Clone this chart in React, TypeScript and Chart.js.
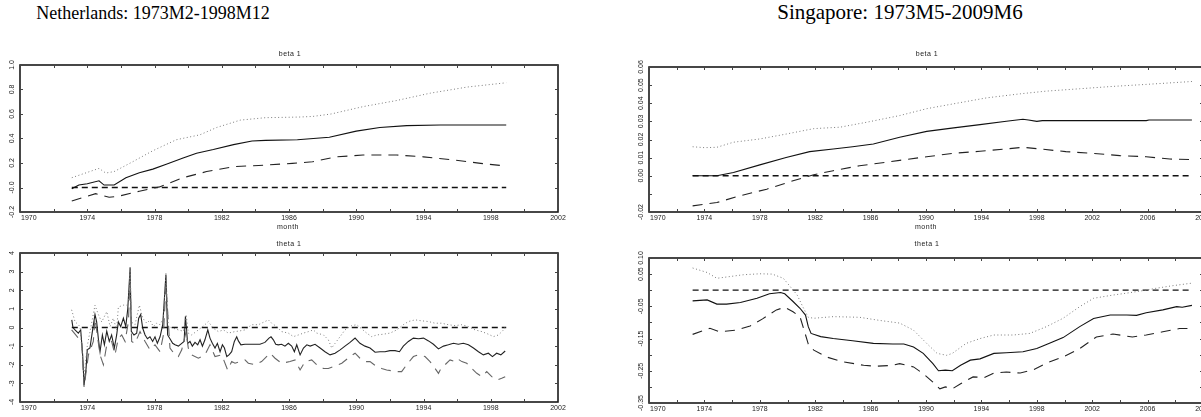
import React, { useEffect, useRef } from "react";
import { Chart, registerables } from "chart.js";
Chart.register(...registerables);

// ---------- Netherlands: beta 1 ----------
const nlBetaEstX = [1973.08, 1973.5, 1974.0, 1974.7, 1975.0, 1975.6, 1976.3, 1977.1, 1977.9, 1978.7, 1979.7, 1980.5, 1981.5, 1982.7, 1983.8, 1984.6, 1986.5, 1988.4, 1990.0, 1991.4, 1993.0, 1995.0, 1998.92];
const nlBetaEst = [-0.01, 0.02, 0.03, 0.055, 0.02, 0.02, 0.08, 0.12, 0.15, 0.19, 0.24, 0.28, 0.31, 0.35, 0.38, 0.385, 0.39, 0.41, 0.46, 0.49, 0.505, 0.51, 0.51];
const nlBetaUpX = [1973.08, 1974.7, 1975.1, 1975.6, 1976.7, 1977.9, 1979.3, 1980.7, 1981.7, 1983.1, 1984.6, 1986.6, 1987.4, 1988.5, 1990.4, 1992.4, 1994.4, 1996.6, 1998.92];
const nlBetaUp = [0.08, 0.156, 0.118, 0.13, 0.21, 0.3, 0.39, 0.43, 0.49, 0.55, 0.57, 0.575, 0.58, 0.6, 0.66, 0.71, 0.77, 0.82, 0.855];
const nlBetaLoX = [1973.08, 1974.5, 1975.3, 1975.9, 1977.1, 1978.3, 1979.7, 1981.1, 1982.7, 1984.2, 1986.2, 1987.4, 1988.8, 1990.4, 1992.4, 1994.0, 1995.8, 1997.4, 1998.92];
const nlBetaLo = [-0.11, -0.05, -0.08, -0.07, -0.03, 0.005, 0.08, 0.13, 0.17, 0.18, 0.197, 0.21, 0.25, 0.265, 0.265, 0.25, 0.225, 0.197, 0.175];
const nlZeroX = [1973.08, 1998.92];
const nlZero = [0, 0];

// ---------- Netherlands: theta 1 ----------
const nlThetaEstX = [1973.08, 1973.15, 1973.27, 1973.47, 1973.61, 1973.73, 1973.81, 1973.93, 1974.0, 1974.16, 1974.32, 1974.46, 1974.56, 1974.66, 1974.76, 1974.9, 1975.02, 1975.16, 1975.31, 1975.45, 1975.61, 1975.75, 1975.85, 1975.99, 1976.15, 1976.29, 1976.41, 1976.55, 1976.62, 1976.78, 1976.94, 1977.06, 1977.18, 1977.3, 1977.44, 1977.58, 1977.73, 1977.89, 1978.03, 1978.17, 1978.33, 1978.49, 1978.68, 1978.78, 1978.92, 1979.08, 1979.22, 1979.42, 1979.62, 1979.76, 1979.84, 1979.97, 1980.11, 1980.25, 1980.41, 1980.57, 1980.71, 1980.85, 1981.0, 1981.17, 1981.3, 1981.44, 1981.6, 1981.74, 1981.9, 1982.04, 1982.16, 1982.3, 1982.43, 1982.59, 1982.75, 1982.89, 1982.99, 1983.14, 1983.38, 1983.68, 1983.98, 1984.27, 1984.57, 1984.81, 1984.93, 1985.07, 1985.21, 1985.36, 1985.56, 1985.76, 1985.96, 1986.16, 1986.32, 1986.46, 1986.66, 1986.86, 1987.06, 1987.26, 1987.55, 1987.85, 1988.14, 1988.44, 1988.74, 1989.04, 1989.33, 1989.63, 1989.93, 1990.03, 1990.22, 1990.52, 1990.82, 1991.12, 1991.41, 1991.71, 1992.01, 1992.31, 1992.57, 1992.8, 1993.1, 1993.4, 1993.7, 1994.0, 1994.3, 1994.59, 1994.89, 1995.19, 1995.48, 1995.78, 1996.07, 1996.37, 1996.67, 1996.97, 1997.27, 1997.56, 1997.86, 1998.1, 1998.35, 1998.6, 1998.86];
const nlThetaEst = [0.41, 0.0, -0.13, -0.3, -0.13, -1.5, -3.1, -2.2, -1.2, -1.1, -0.13, 0.7, 0.3, -0.6, -1.3, -0.4, -0.93, -0.2, -0.75, -0.4, -1.1, -0.4, 0.3, 0.05, 0.5, 0.05, 1.0, 3.2, -0.2, -0.4, -0.3, 0.5, 0.7, -0.04, -0.4, -0.6, -0.5, -0.75, -0.5, -0.85, -0.5, 0.15, 2.85, -0.4, -0.6, -0.85, -0.93, -1.0, -0.85, -0.75, 0.6, -0.85, -0.75, -1.0, -0.8, -0.93, -0.66, -1.0, -0.66, -0.13, -0.57, -0.85, -1.1, -0.85, -1.3, -0.93, -1.1, -1.56, -1.47, -1.3, -0.75, -0.5, -0.72, -0.93, -0.9, -0.9, -0.9, -0.9, -0.8, -0.57, -0.5, -0.66, -0.9, -0.93, -0.9, -1.0, -0.85, -1.0, -1.3, -0.93, -1.47, -1.1, -0.93, -1.0, -0.9, -1.1, -1.3, -1.47, -1.38, -1.2, -1.0, -0.8, -0.57, -0.66, -0.85, -1.0, -1.1, -1.33, -1.3, -1.3, -1.24, -1.24, -1.3, -1.0, -0.75, -0.57, -0.6, -0.57, -0.72, -0.9, -1.15, -1.0, -0.93, -0.85, -0.9, -0.85, -0.93, -1.1, -1.3, -1.47, -1.38, -1.56, -1.38, -1.47, -1.26];
const nlThetaUpX = [1973.07, 1973.27, 1973.57, 1973.81, 1974.0, 1974.46, 1974.66, 1974.86, 1975.16, 1975.36, 1975.55, 1975.75, 1975.85, 1976.15, 1976.45, 1976.55, 1976.62, 1976.84, 1977.1, 1977.3, 1977.54, 1977.73, 1977.93, 1978.13, 1978.33, 1978.53, 1978.68, 1978.82, 1979.12, 1979.42, 1979.72, 1979.88, 1980.01, 1980.21, 1980.61, 1981.0, 1981.2, 1981.5, 1981.8, 1982.1, 1982.39, 1982.79, 1983.09, 1983.38, 1983.78, 1984.18, 1984.57, 1984.77, 1984.97, 1985.27, 1985.56, 1985.96, 1986.26, 1986.56, 1986.86, 1987.16, 1987.45, 1987.65, 1988.05, 1988.34, 1988.54, 1988.74, 1989.04, 1989.33, 1989.73, 1990.03, 1990.32, 1990.62, 1990.92, 1991.22, 1991.61, 1992.01, 1992.41, 1992.8, 1993.1, 1993.5, 1993.89, 1994.29, 1994.69, 1995.08, 1995.48, 1995.88, 1996.28, 1996.67, 1997.07, 1997.47, 1997.86, 1998.16, 1998.46, 1998.76, 1998.86];
const nlThetaUp = [0.95, 0.32, 0.05, -2.6, -1.0, 1.2, 0.7, 0.3, 0.85, 0.05, 0.5, -0.13, 1.1, 1.2, 1.2, 3.3, 0.3, 0.15, 1.2, 0.5, 0.23, 0.4, 0.05, 0.23, 0.15, 0.5, 2.9, 0.05, -0.04, -0.13, -0.2, 0.7, -0.3, -0.4, -0.13, 0.15, 0.32, -0.04, -0.22, -0.13, -0.3, -0.22, -0.18, -0.13, 0.15, 0.15, 0.32, 0.41, 0.23, 0.05, -0.22, -0.3, -0.49, -0.4, -0.3, -0.22, -0.13, -0.3, -0.4, -0.66, -1.1, -0.85, -0.49, -0.13, 0.1, 0.15, -0.07, -0.3, -0.49, -0.4, -0.36, -0.3, -0.13, 0.15, 0.32, 0.41, 0.36, 0.32, 0.23, 0.23, 0.15, 0.1, 0.15, 0.05, -0.13, -0.22, -0.36, -0.49, -0.4, -0.13, 0.05];
const nlThetaLoX = [1973.07, 1973.47, 1973.67, 1973.81, 1974.07, 1974.36, 1974.46, 1974.76, 1974.96, 1975.16, 1975.45, 1975.65, 1975.85, 1976.05, 1976.25, 1976.45, 1976.55, 1976.64, 1976.84, 1977.14, 1977.44, 1977.73, 1978.03, 1978.33, 1978.53, 1978.68, 1978.92, 1979.22, 1979.42, 1979.62, 1979.88, 1980.01, 1980.21, 1980.61, 1981.0, 1981.3, 1981.6, 1982.0, 1982.35, 1982.59, 1982.79, 1983.38, 1983.58, 1983.98, 1984.37, 1984.87, 1985.17, 1985.56, 1986.06, 1986.36, 1986.66, 1986.96, 1987.35, 1987.65, 1988.05, 1988.34, 1988.64, 1989.14, 1989.63, 1989.93, 1990.22, 1990.52, 1990.82, 1991.22, 1991.51, 1991.81, 1992.41, 1992.7, 1993.0, 1993.4, 1993.7, 1994.09, 1994.39, 1994.69, 1994.89, 1994.99, 1995.28, 1995.58, 1995.78, 1995.98, 1996.28, 1996.57, 1996.87, 1997.17, 1997.47, 1997.76, 1998.06, 1998.36, 1998.65, 1998.86];
const nlThetaLo = [-0.13, -0.57, -0.75, -3.2, -1.47, -0.75, 0.5, -1.47, -2.0, -0.93, -0.75, -1.47, -0.57, -0.4, -0.75, 0.32, 2.85, -0.75, -0.85, -0.22, -0.75, -1.2, -0.93, -1.3, -0.4, 2.3, -1.1, -1.47, -1.56, -1.2, -0.22, -1.1, -1.47, -1.65, -1.47, -0.93, -1.56, -1.47, -2.28, -1.83, -1.92, -1.74, -1.92, -2.0, -1.83, -1.38, -1.65, -1.92, -1.83, -1.74, -2.28, -1.83, -1.74, -2.0, -2.2, -2.2, -2.1, -1.92, -1.56, -1.38, -1.65, -1.83, -1.83, -2.1, -2.2, -2.28, -2.37, -2.37, -2.0, -1.56, -1.47, -1.56, -1.83, -2.2, -2.46, -2.28, -2.0, -1.74, -1.8, -1.65, -1.83, -1.92, -2.2, -2.46, -2.64, -2.37, -2.64, -2.82, -2.73, -2.64];

// ---------- Singapore: beta 1 ----------
const sgBetaEstX = [1973.15, 1974.9, 1976.1, 1978.0, 1979.9, 1981.6, 1983.3, 1984.7, 1986.2, 1988.1, 1990.05, 1992.0, 1993.9, 1995.8, 1997.0, 1997.4, 1998.0, 1998.4, 2001.1, 2005.9, 2006.1, 2009.2];
const sgBetaEst = [0.0, 0.0, 0.0018, 0.006, 0.0101, 0.0133, 0.0148, 0.016, 0.0175, 0.0212, 0.0245, 0.0264, 0.0282, 0.0301, 0.0312, 0.0308, 0.03, 0.0304, 0.0304, 0.0304, 0.0308, 0.0308];
const sgBetaUpX = [1973.15, 1974.0, 1974.9, 1976.1, 1978.0, 1979.9, 1981.9, 1983.8, 1985.7, 1988.1, 1990.05, 1992.0, 1994.4, 1996.8, 1998.7, 2001.1, 2003.5, 2005.9, 2009.2];
const sgBetaUp = [0.016, 0.0155, 0.0157, 0.0185, 0.0203, 0.023, 0.026, 0.0268, 0.0295, 0.0332, 0.037, 0.0397, 0.043, 0.0452, 0.0467, 0.048, 0.0493, 0.0504, 0.052];
const sgBetaLoX = [1973.15, 1974.9, 1976.6, 1978.5, 1980.4, 1981.9, 1983.3, 1985.2, 1987.2, 1988.1, 1990.05, 1992.0, 1993.9, 1995.8, 1997.0, 1998.2, 2000.1, 2002.0, 2004.0, 2005.9, 2007.6, 2009.2];
const sgBetaLo = [-0.0166, -0.0148, -0.011, -0.0074, -0.0028, 0.0006, 0.0028, 0.0055, 0.0075, 0.0085, 0.0105, 0.0124, 0.0135, 0.0148, 0.0157, 0.0148, 0.0133, 0.0124, 0.0111, 0.0105, 0.0092, 0.0089];
const sgZeroX = [1973.15, 2009.2];
const sgZero = [0, 0];

// ---------- Singapore: theta 1 ----------
const sgThetaEstX = [1973.15, 1974.2, 1974.9, 1975.6, 1976.6, 1977.8, 1978.7, 1979.5, 1979.8, 1980.4, 1980.9, 1981.3, 1981.5, 1981.7, 1982.4, 1983.3, 1984.7, 1986.2, 1987.6, 1988.4, 1989.1, 1989.8, 1990.5, 1990.9, 1991.4, 1991.9, 1992.5, 1993.2, 1993.9, 1994.9, 1995.8, 1997.0, 1998.0, 1999.0, 1999.9, 2001.1, 2002.1, 2003.3, 2004.5, 2005.2, 2005.9, 2007.1, 2008.1, 2008.5, 2009.2];
const sgThetaEst = [-0.033, -0.03, -0.043, -0.043, -0.038, -0.025, -0.011, -0.007, -0.011, -0.035, -0.056, -0.077, -0.113, -0.134, -0.144, -0.15, -0.157, -0.165, -0.167, -0.167, -0.176, -0.196, -0.228, -0.25, -0.248, -0.25, -0.233, -0.217, -0.213, -0.196, -0.194, -0.191, -0.181, -0.163, -0.147, -0.113, -0.088, -0.077, -0.077, -0.078, -0.07, -0.061, -0.051, -0.053, -0.047];
const sgThetaUpX = [1973.15, 1974.2, 1974.9, 1975.6, 1976.8, 1978.0, 1978.9, 1979.7, 1980.2, 1980.7, 1981.1, 1981.5, 1981.9, 1983.3, 1985.2, 1986.7, 1988.1, 1989.1, 1990.05, 1990.8, 1991.5, 1991.9, 1992.9, 1993.9, 1994.9, 1996.3, 1997.5, 1998.7, 1999.9, 2001.1, 2002.1, 2003.5, 2004.5, 2005.7, 2006.6, 2007.8, 2009.2];
const sgThetaUp = [0.069, 0.055, 0.037, 0.041, 0.048, 0.051, 0.05, 0.037, 0.011, -0.015, -0.051, -0.084, -0.087, -0.082, -0.084, -0.094, -0.102, -0.124, -0.165, -0.196, -0.202, -0.196, -0.165, -0.15, -0.139, -0.139, -0.134, -0.113, -0.087, -0.051, -0.025, -0.015, -0.009, -0.001, 0.006, 0.014, 0.022];
const sgThetaLoX = [1973.15, 1974.4, 1975.1, 1976.3, 1977.3, 1978.2, 1979.2, 1979.8, 1980.4, 1980.9, 1981.2, 1981.5, 1981.9, 1982.8, 1984.0, 1985.5, 1986.4, 1987.6, 1988.1, 1989.1, 1989.8, 1990.5, 1991.0, 1991.4, 1991.9, 1992.5, 1993.4, 1994.2, 1994.9, 1995.8, 1996.8, 1997.8, 1998.7, 1999.9, 2001.1, 2002.3, 2003.5, 2004.9, 2005.9, 2007.1, 2008.3, 2009.0];
const sgThetaLo = [-0.137, -0.118, -0.129, -0.124, -0.111, -0.089, -0.061, -0.053, -0.067, -0.082, -0.124, -0.167, -0.186, -0.207, -0.222, -0.233, -0.236, -0.233, -0.228, -0.238, -0.259, -0.285, -0.306, -0.3, -0.306, -0.29, -0.269, -0.271, -0.257, -0.254, -0.257, -0.246, -0.226, -0.207, -0.181, -0.145, -0.136, -0.145, -0.139, -0.129, -0.119, -0.119];

// ---------- axis ticks and labels ----------
const nlXTicks = [1970, 1972, 1974, 1976, 1978, 1980, 1982, 1984, 1986, 1988, 1990, 1992, 1994, 1996, 1998, 2000, 2002];
const nlXLabels = [1970, 1974, 1978, 1982, 1986, 1990, 1994, 1998, 2002];
const sgXTicks = [1970, 1972, 1974, 1976, 1978, 1980, 1982, 1984, 1986, 1988, 1990, 1992, 1994, 1996, 1998, 2000, 2002, 2004, 2006, 2008, 2010];
const sgXLabels = [1970, 1974, 1978, 1982, 1986, 1990, 1994, 1998, 2002, 2006, 2010];
const nlBetaYTicks = [-0.2, 0, 0.2, 0.4, 0.6, 0.8, 1.0];
const nlBetaYLabels = ["-0.2", "-0.0", "0.2", "0.4", "0.6", "0.8", "1.0"];
const nlThetaYTicks = [-4, -3, -2, -1, 0, 1, 2, 3, 4];
const nlThetaYLabels = ["-4", "-3", "-2", "-1", "0", "1", "2", "3", "4"];
const sgBetaYTicks = [-0.02, -0.01, 0, 0.01, 0.02, 0.03, 0.04, 0.05, 0.06];
const sgBetaYLabels = ["-0.02", "", "0.00", "0.01", "0.02", "0.03", "0.04", "0.05", "0.06"];
const sgThetaYTicks = [-0.35, -0.3, -0.25, -0.2, -0.15, -0.1, -0.05, 0, 0.05, 0.1];
const sgThetaYLabels = ["-0.35", "", "-0.25", "", "-0.15", "", "-0.05", "", "0.05", "0.10"];

const SMALL_FONT = "7px 'Liberation Sans', Arial, sans-serif";

const framePlugin = {
  id: "frame",
  afterDraw(chart: any, _args: any, opts: any) {
    const { ctx, chartArea: a, scales } = chart;
    const xs = scales.x;
    const ys = scales.y;
    ctx.save();
    ctx.strokeStyle = "#1a1a1a";
    ctx.lineWidth = 1.6;
    ctx.strokeRect(a.left, a.top, a.right - a.left, a.bottom - a.top);
    ctx.lineWidth = 1;
    ctx.strokeStyle = "#444";
    ctx.beginPath();
    for (const v of opts.xTicks) {
      const px = Math.round(xs.getPixelForValue(v)) + 0.5;
      ctx.moveTo(px, a.top);
      ctx.lineTo(px, a.top + 3);
      ctx.moveTo(px, a.bottom);
      ctx.lineTo(px, a.bottom - 3);
    }
    for (const v of opts.yTicks) {
      const py = Math.round(ys.getPixelForValue(v)) + 0.5;
      ctx.moveTo(a.left, py);
      ctx.lineTo(a.left + 3, py);
      ctx.moveTo(a.right, py);
      ctx.lineTo(a.right - 3, py);
    }
    ctx.stroke();
    ctx.fillStyle = "#222";
    ctx.font = SMALL_FONT;
    ctx.textBaseline = "top";
    opts.xLabels.forEach((v: number, i: number) => {
      const px = xs.getPixelForValue(v);
      if (i === 0) {
        ctx.textAlign = "left";
        ctx.fillText(String(v), px + 1, a.bottom + 3);
      } else {
        ctx.textAlign = "center";
        ctx.fillText(String(v), px, a.bottom + 3);
      }
    });
    opts.yTicks.forEach((v: number, i: number) => {
      const lab = opts.yLabels[i];
      if (!lab) return;
      const py = ys.getPixelForValue(v);
      ctx.save();
      ctx.translate(a.left - 8, py);
      ctx.rotate(-Math.PI / 2);
      ctx.textAlign = "center";
      ctx.textBaseline = "middle";
      ctx.fillText(lab, 0, 0);
      ctx.restore();
    });
    ctx.restore();
  },
};

function pts(xs: number[], ys: number[]) {
  return xs.map((x, i) => ({ x, y: ys[i] }));
}

function est(xs: number[], ys: number[], color = "#111") {
  return { data: pts(xs, ys), borderColor: color, borderWidth: 1.1, pointRadius: 0, tension: 0 };
}
function upper(xs: number[], ys: number[]) {
  return { data: pts(xs, ys), borderColor: "#7a7a7a", borderWidth: 1, borderDash: [1, 2.5], pointRadius: 0, tension: 0 };
}
function lower(xs: number[], ys: number[], color = "#222") {
  return { data: pts(xs, ys), borderColor: color, borderWidth: 1.1, borderDash: [10, 7], pointRadius: 0, tension: 0 };
}
function zero(xs: number[], ys: number[]) {
  return { data: pts(xs, ys), borderColor: "#111", borderWidth: 1.3, borderDash: [6, 4], pointRadius: 0, tension: 0 };
}

function makeConfig(xr: number[], yr: number[], pad: any, datasets: any[], frame: any): any {
  return {
    type: "line",
    data: { datasets },
    options: {
      animation: false,
      responsive: false,
      maintainAspectRatio: false,
      devicePixelRatio: 1,
      layout: { padding: pad },
      plugins: { legend: { display: false }, tooltip: { enabled: false }, frame },
      scales: {
        x: { type: "linear", min: xr[0], max: xr[1], display: false },
        y: { type: "linear", min: yr[0], max: yr[1], display: false },
      },
    },
    plugins: [framePlugin],
  };
}

const labelStyle: React.CSSProperties = {
  position: "absolute",
  font: SMALL_FONT,
  color: "#222",
  transform: "translateX(-50%)",
  whiteSpace: "nowrap",
  letterSpacing: "0.5px",
};

export default function App() {
  const r1 = useRef<HTMLCanvasElement>(null);
  const r2 = useRef<HTMLCanvasElement>(null);
  const r3 = useRef<HTMLCanvasElement>(null);
  const r4 = useRef<HTMLCanvasElement>(null);

  useEffect(() => {
    const charts: Chart[] = [];
    charts.push(
      new Chart(
        r1.current as HTMLCanvasElement,
        makeConfig([1970, 2002], [-0.2, 1.0], { left: 20, top: 25, right: 42, bottom: 18 }, [
          upper(nlBetaUpX, nlBetaUp),
          lower(nlBetaLoX, nlBetaLo),
          zero(nlZeroX, nlZero),
          est(nlBetaEstX, nlBetaEst),
        ], { xTicks: nlXTicks, xLabels: nlXLabels, yTicks: nlBetaYTicks, yLabels: nlBetaYLabels })
      )
    );
    charts.push(
      new Chart(
        r2.current as HTMLCanvasElement,
        makeConfig([1970, 2002], [-4, 4], { left: 20, top: 23, right: 42, bottom: 15 }, [
          upper(nlThetaUpX, nlThetaUp),
          lower(nlThetaLoX, nlThetaLo, "#666"),
          zero(nlZeroX, nlZero),
          est(nlThetaEstX, nlThetaEst, "#222"),
        ], { xTicks: nlXTicks, xLabels: nlXLabels, yTicks: nlThetaYTicks, yLabels: nlThetaYLabels })
      )
    );
    charts.push(
      new Chart(
        r3.current as HTMLCanvasElement,
        makeConfig([1970, 2010], [-0.02, 0.06], { left: 49, top: 27, right: 37, bottom: 18 }, [
          upper(sgBetaUpX, sgBetaUp),
          lower(sgBetaLoX, sgBetaLo),
          zero(sgZeroX, sgZero),
          est(sgBetaEstX, sgBetaEst),
        ], { xTicks: sgXTicks, xLabels: sgXLabels, yTicks: sgBetaYTicks, yLabels: sgBetaYLabels })
      )
    );
    charts.push(
      new Chart(
        r4.current as HTMLCanvasElement,
        makeConfig([1970, 2010], [-0.35, 0.1], { left: 49, top: 28, right: 37, bottom: 14 }, [
          upper(sgThetaUpX, sgThetaUp),
          lower(sgThetaLoX, sgThetaLo),
          zero(sgZeroX, sgZero),
          est(sgThetaEstX, sgThetaEst),
        ], { xTicks: sgXTicks, xLabels: sgXLabels, yTicks: sgThetaYTicks, yLabels: sgThetaYLabels })
      )
    );
    return () => charts.forEach((c) => c.destroy());
  }, []);

  const titleStyle: React.CSSProperties = {
    position: "absolute",
    top: 0,
    font: "21px 'Liberation Serif', 'Times New Roman', serif",
    lineHeight: "24px",
    color: "#000",
    transform: "translateX(-50%)",
    whiteSpace: "nowrap",
  };

  return (
    <div style={{ position: "fixed", left: 0, top: 0, width: 1201, height: 417, overflow: "hidden", background: "#fff" }}>
      <div style={{ ...titleStyle, left: 153, fontSize: 18, top: 1 }}>Netherlands: 1973M2-1998M12</div>
      <div style={{ ...titleStyle, left: 900 }}>Singapore: 1973M5-2009M6</div>
      <canvas ref={r1} width={600} height={190} style={{ position: "absolute", left: 0, top: 40, width: 600, height: 190 }} />
      <canvas ref={r2} width={600} height={187} style={{ position: "absolute", left: 0, top: 230, width: 600, height: 187 }} />
      <canvas ref={r3} width={640} height={190} style={{ position: "absolute", left: 600, top: 40, width: 640, height: 190 }} />
      <canvas ref={r4} width={640} height={187} style={{ position: "absolute", left: 600, top: 230, width: 640, height: 187 }} />
      <div style={{ ...labelStyle, left: 290, top: 50 }}>beta 1</div>
      <div style={{ ...labelStyle, left: 288, top: 223 }}>month</div>
      <div style={{ ...labelStyle, left: 289, top: 240 }}>theta 1</div>
      <div style={{ ...labelStyle, left: 927, top: 50 }}>beta 1</div>
      <div style={{ ...labelStyle, left: 926, top: 223 }}>month</div>
      <div style={{ ...labelStyle, left: 927, top: 240 }}>theta 1</div>
    </div>
  );
}
